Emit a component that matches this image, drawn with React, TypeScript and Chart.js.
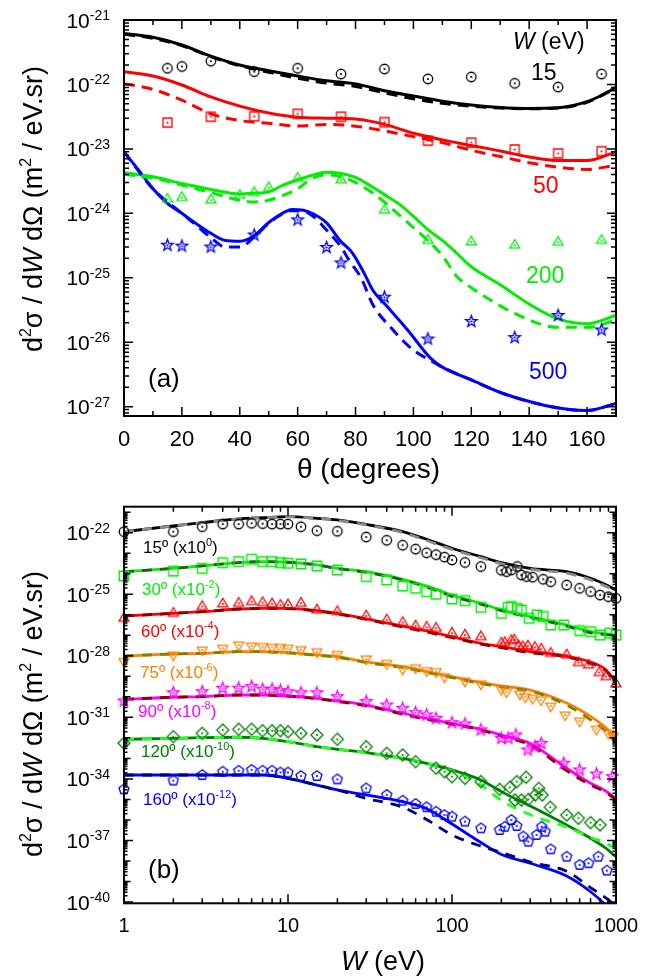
import React, { useEffect, useRef } from 'react';
import { Chart, registerables } from 'chart.js';

Chart.register(...registerables);

const FONT = '"Liberation Sans", Arial, Helvetica, sans-serif';

// ---------------- Panel (a): d2sigma vs theta ----------------
const A_YMIN = 7.16e-28;
const A_YMAX = 1e-21;
const A_X_LABELS = [0, 20, 40, 60, 80, 100, 120, 140, 160];
const A_Y_EXPS = [-21, -22, -23, -24, -25, -26, -27];

const A15_THETA = [0, 10, 20, 30, 40, 50, 60, 70, 80, 90, 100, 110, 120, 130, 140, 150, 160, 165, 170];
const A15_SOLID = [6.2e-22, 5.4e-22, 4.1e-22, 2.75e-22, 2.0e-22, 1.63e-22, 1.35e-22, 1.14e-22, 1.02e-22, 8.0e-23, 6.6e-23, 5.5e-23, 4.8e-23, 4.4e-23, 4.25e-23, 4.35e-23, 5.4e-23, 6.8e-23, 9.0e-23];
const A15_DASH = [6.0e-22, 5.2e-22, 4.0e-22, 2.7e-22, 1.95e-22, 1.55e-22, 1.25e-22, 1.05e-22, 9.3e-23, 7.4e-23, 6.0e-23, 5.1e-23, 4.6e-23, 4.3e-23, 4.2e-23, 4.3e-23, 5.3e-23, 6.7e-23, 8.9e-23];

const A50_THETA = [0, 10, 20, 30, 40, 50, 60, 70, 80, 90, 100, 110, 120, 130, 140, 150, 160, 170];
const A50_SOLID = [1.58e-22, 1.35e-22, 9.8e-23, 6.4e-23, 4.6e-23, 3.6e-23, 3.1e-23, 3.0e-23, 2.9e-23, 2.4e-23, 1.75e-23, 1.38e-23, 1.13e-23, 9.3e-24, 7.5e-24, 6.6e-24, 6.6e-24, 9.0e-24];
const A50_DASH = [1.03e-22, 8.4e-23, 5.7e-23, 3.5e-23, 2.75e-23, 2.5e-23, 2.26e-23, 2.4e-23, 2.25e-23, 1.9e-23, 1.55e-23, 1.25e-23, 9.5e-24, 7.6e-24, 6.1e-24, 5.2e-24, 4.8e-24, 5.6e-24];

const A200_THETA = [0, 10, 20, 30, 40, 45, 50, 55, 60, 65, 70, 75, 80, 85, 90, 95, 100, 105, 110, 115, 120, 130, 140, 150, 160, 170];
const A200_SOLID = [4.25e-24, 3.7e-24, 2.9e-24, 2.35e-24, 2.0e-24, 2.05e-24, 2.15e-24, 2.75e-24, 3.3e-24, 3.9e-24, 4.35e-24, 4.15e-24, 3.6e-24, 2.7e-24, 1.95e-24, 1.4e-24, 9.0e-25, 5.6e-25, 3.8e-25, 2.4e-25, 1.48e-25, 7.8e-26, 3.9e-26, 2.3e-26, 1.94e-26, 2.6e-26];
const A200_DTHETA = [0, 10, 20, 30, 40, 45, 50, 55, 60, 65, 70, 75, 80, 85, 90, 95, 100, 105, 110, 115, 120, 125, 135, 150, 160, 170];
const A200_DASH = [4.05e-24, 3.5e-24, 2.75e-24, 2.1e-24, 1.6e-24, 1.5e-24, 1.6e-24, 1.9e-24, 2.4e-24, 3.5e-24, 3.95e-24, 3.7e-24, 3.0e-24, 2.2e-24, 1.5e-24, 9.5e-25, 6.0e-25, 3.8e-25, 2.2e-25, 1.05e-25, 7.0e-26, 5.0e-26, 2.8e-26, 1.7e-26, 1.7e-26, 2.2e-26];

const A500_THETA = [0, 5, 10, 15, 20, 25, 30, 35, 40, 45, 50, 55, 58, 62, 66, 70, 74.6, 79, 83, 86, 91, 98, 106, 110, 120, 131, 143, 154, 160, 170];
const A500_SOLID = [9.0e-24, 4.7e-24, 2.4e-24, 1.43e-24, 1.0e-24, 6.9e-25, 4.9e-25, 3.8e-25, 3.7e-25, 4.5e-25, 7.2e-25, 1.02e-24, 1.15e-24, 1.12e-24, 9.5e-25, 7.1e-25, 3.8e-25, 2.4e-25, 1.17e-25, 6.4e-26, 3.55e-26, 1.55e-26, 5.6e-27, 4.1e-27, 2.6e-27, 1.6e-27, 1.11e-27, 9.0e-28, 8.7e-28, 1.12e-27];
const A500_DTHETA = [0, 10, 20, 25, 30, 35, 40, 45, 50, 55, 58, 62, 66, 70, 75, 78, 82, 86, 92.5, 99.4, 108, 110, 120, 131, 143, 154, 160, 170];
const A500_DASH = [9.0e-24, 2.4e-24, 1.0e-24, 6.5e-25, 4.2e-25, 3.0e-25, 3.0e-25, 4.3e-25, 7.0e-25, 1.0e-24, 1.1e-24, 1.08e-24, 8.5e-25, 5.5e-25, 3.0e-25, 1.8e-25, 9.8e-26, 3.8e-26, 1.63e-26, 7.9e-27, 4.6e-27, 4.1e-27, 2.6e-27, 1.6e-27, 1.11e-27, 9.0e-28, 8.7e-28, 1.12e-27];

const P15_THETA = [15, 20, 30, 45, 60, 75, 90, 105, 120, 135, 150, 165];
const P15_VAL = [1.78e-22, 1.9e-22, 2.3e-22, 1.58e-22, 1.78e-22, 1.45e-22, 1.74e-22, 1.22e-22, 1.31e-22, 1.04e-22, 9.1e-23, 1.45e-22];
const P50_THETA = [15, 30, 45, 60, 75, 90, 105, 120, 135, 150, 165];
const P50_VAL = [2.56e-23, 3.15e-23, 3.2e-23, 3.5e-23, 3.15e-23, 2.6e-23, 1.34e-23, 1.25e-23, 9.8e-24, 8.5e-24, 9.2e-24];
const P200_THETA = [15, 20, 30, 40, 45, 50, 60, 75, 90, 105, 120, 135, 150, 165];
const P200_VAL = [1.65e-24, 1.76e-24, 1.6e-24, 1.9e-24, 2.1e-24, 2.5e-24, 3.5e-24, 3.3e-24, 1.12e-24, 3.8e-25, 3.6e-25, 3.2e-25, 3.55e-25, 3.8e-25];
const P500_THETA = [15, 20, 30, 45, 60, 70, 75, 90, 105, 120, 135, 150, 165];
const P500_VAL = [3.2e-25, 3.1e-25, 3.0e-25, 4.6e-25, 7.9e-25, 2.95e-25, 1.7e-25, 5.0e-26, 1.12e-26, 2.1e-26, 1.18e-26, 2.6e-26, 1.55e-26];

// ---------------- Panel (b): d2sigma vs W (values stored as log10) ----------------
const B_YMIN_EXP = -40.063;
const B_YMAX_EXP = -20.733;
const B_X_LABELS = [1, 10, 100, 1000];
const B_Y_EXPS = [-22, -25, -28, -31, -34, -37, -40];

const W_CURVE = [1, 2, 3, 5, 7, 10, 15, 20, 30, 50, 70, 100, 150, 200, 300, 500, 700, 850, 1000];
const B15_SOLID = [-21.95, -21.67, -21.51, -21.33, -21.27, -21.22, -21.30, -21.38, -21.60, -21.95, -22.32, -22.76, -23.17, -23.46, -23.74, -23.90, -24.22, -24.50, -24.79];
const B15_DASH = [-21.95, -21.67, -21.51, -21.33, -21.27, -21.22, -21.30, -21.40, -21.62, -21.99, -22.38, -22.82, -23.22, -23.51, -23.79, -23.97, -24.30, -24.58, -24.85];
const B30_SOLID = [-23.90, -23.74, -23.62, -23.46, -23.41, -23.44, -23.57, -23.74, -23.90, -24.27, -24.60, -25.04, -25.44, -25.77, -26.09, -26.50, -26.82, -26.92, -26.99];
const B30_DASH = [-23.90, -23.74, -23.62, -23.46, -23.41, -23.44, -23.57, -23.75, -23.93, -24.30, -24.65, -25.10, -25.48, -25.80, -26.13, -26.55, -26.88, -26.96, -27.02];
const B60_SOLID = [-26.06, -25.93, -25.85, -25.72, -25.69, -25.69, -25.80, -25.93, -26.20, -26.55, -26.79, -27.07, -27.39, -27.55, -27.80, -28.01, -28.30, -28.62, -29.26];
const B60_DASH = [-26.06, -25.93, -25.85, -25.72, -25.69, -25.70, -25.82, -25.96, -26.23, -26.60, -26.84, -27.12, -27.43, -27.60, -27.85, -28.06, -28.37, -28.68, -29.30];
const B75_SOLID = [-28.01, -27.91, -27.88, -27.80, -27.80, -27.85, -27.96, -28.04, -28.30, -28.53, -28.77, -29.02, -29.31, -29.47, -29.67, -30.30, -30.95, -31.45, -32.00];
const B75_DASH = [-28.01, -27.91, -27.88, -27.80, -27.80, -27.86, -27.98, -28.07, -28.33, -28.57, -28.81, -29.06, -29.35, -29.52, -29.72, -30.40, -31.12, -31.62, -32.20];
const B90_SOLID = [-30.12, -30.02, -29.99, -29.91, -29.91, -29.96, -30.07, -30.20, -30.40, -30.80, -31.05, -31.29, -31.58, -31.86, -32.27, -33.48, -34.21, -34.55, -34.95];
const B90_DASH = [-30.12, -30.02, -29.99, -29.91, -29.91, -29.97, -30.09, -30.23, -30.44, -30.85, -31.10, -31.33, -31.62, -31.92, -32.35, -33.60, -34.30, -34.62, -35.00];
const B120_SOLID = [-32.07, -32.02, -31.99, -31.97, -32.02, -32.18, -32.43, -32.56, -32.72, -33.00, -33.24, -33.56, -34.05, -34.62, -35.32, -36.24, -36.89, -37.33, -37.79];
const B120_DASH = [-32.07, -32.02, -31.99, -31.97, -32.02, -32.18, -32.43, -32.56, -32.72, -33.00, -33.24, -33.60, -34.30, -35.05, -35.75, -36.35, -36.85, -37.10, -37.38];
const B160_SOLID = [-33.81, -33.81, -33.81, -33.81, -33.81, -33.97, -34.30, -34.54, -34.78, -35.11, -35.45, -36.20, -37.10, -37.68, -38.11, -38.73, -39.50, -40.10, -40.80];
const B160_DASH = [-33.81, -33.81, -33.81, -33.81, -33.81, -33.97, -34.30, -34.54, -34.95, -35.38, -35.98, -36.73, -37.28, -37.58, -38.05, -38.50, -39.30, -39.75, -40.20];

const B15_W = [1, 2, 3, 4, 5, 6, 7, 8, 9, 10, 12, 15, 20, 30, 40, 50, 60, 70, 80, 90, 100, 120, 150, 200, 215, 230, 250, 265, 285, 310, 360, 400, 500, 600, 700, 800, 900, 1000];
const B15_P = [-21.95, -21.95, -21.71, -21.58, -21.58, -21.54, -21.56, -21.58, -21.58, -21.58, -21.71, -21.90, -21.93, -22.21, -22.37, -22.61, -22.80, -22.98, -23.07, -23.19, -23.33, -23.45, -23.65, -23.83, -23.90, -23.82, -23.65, -24.06, -24.14, -24.17, -24.27, -24.39, -24.55, -24.71, -24.87, -25.04, -25.12, -25.20];
const B30_W = [1, 2, 3, 4, 5, 6, 7, 8, 9, 10, 12, 15, 20, 30, 40, 50, 60, 70, 80, 100, 120, 150, 200, 220, 230, 250, 265, 295, 330, 360, 400, 480, 600, 700, 800, 920, 1000];
const B30_P = [-24.11, -23.87, -23.74, -23.46, -23.41, -23.30, -23.41, -23.41, -23.46, -23.49, -23.52, -23.62, -23.82, -24.14, -24.30, -24.60, -24.71, -24.87, -25.00, -25.23, -25.31, -25.64, -25.93, -25.64, -25.60, -25.69, -25.77, -26.17, -26.01, -26.09, -26.50, -26.50, -26.77, -26.82, -26.99, -26.90, -26.99];
const B60_W = [1, 2, 3, 4, 5, 6, 7, 8, 9, 10, 12, 15, 20, 30, 40, 50, 60, 70, 80, 100, 120, 150, 200, 210, 230, 240, 255, 270, 290, 320, 350, 400, 500, 590, 680, 790, 870, 1000];
const B60_P = [-26.17, -25.93, -25.60, -25.47, -25.44, -25.36, -25.41, -25.47, -25.54, -25.52, -25.44, -25.77, -25.85, -26.06, -26.25, -26.38, -26.55, -26.61, -26.66, -26.90, -26.99, -27.07, -27.39, -27.36, -27.26, -27.23, -27.52, -27.55, -27.52, -27.59, -27.68, -27.88, -27.96, -28.33, -28.45, -28.82, -29.02, -29.37];
const B75_W = [1, 2, 3, 4, 5, 6, 7, 8, 9, 10, 12, 15, 20, 30, 40, 50, 60, 70, 80, 90, 120, 150, 200, 215, 260, 280, 310, 350, 400, 490, 600, 760, 900, 960];
const B75_P = [-28.28, -27.96, -27.72, -27.63, -27.47, -27.52, -27.55, -27.59, -27.59, -27.63, -27.70, -27.80, -27.93, -28.15, -28.37, -28.64, -28.58, -28.72, -28.77, -29.02, -29.23, -29.37, -29.63, -29.75, -29.86, -29.99, -30.07, -30.15, -30.45, -30.88, -31.18, -31.58, -31.78, -31.91];
const B90_W = [1, 2, 3, 4, 5, 6, 7, 8, 9, 10, 12, 15, 20, 30, 40, 50, 60, 70, 80, 100, 120, 150, 200, 220, 245, 290, 320, 350, 480, 600, 760, 950];
const B90_P = [-30.20, -29.80, -29.75, -29.58, -29.58, -29.50, -29.63, -29.63, -29.70, -29.75, -29.80, -29.80, -29.99, -30.23, -30.40, -30.56, -30.77, -30.88, -31.05, -31.26, -31.32, -31.61, -32.02, -32.02, -31.86, -32.59, -32.43, -32.27, -33.24, -33.56, -33.76, -33.89];
const B120_W = [1, 2, 3, 4, 5, 6, 7, 8, 9, 10, 12, 15, 20, 30, 40, 50, 60, 80, 90, 100, 120, 150, 195, 225, 242, 248, 265, 283, 292, 322, 338, 355, 397, 500, 590, 700, 800];
const B120_P = [-32.26, -31.94, -31.78, -31.62, -31.58, -31.58, -31.65, -31.65, -31.65, -31.70, -31.78, -31.86, -32.07, -32.43, -32.75, -32.83, -33.16, -33.48, -33.65, -33.89, -33.97, -34.13, -34.51, -34.41, -35.03, -34.13, -35.03, -33.92, -35.00, -34.78, -34.46, -34.78, -35.38, -35.76, -35.92, -36.13, -36.24];
const B160_W = [1, 2, 3, 4, 5, 6, 7, 8, 9, 10, 12, 15, 20, 30, 40, 50, 60, 70, 80, 90, 100, 120, 150, 195, 210, 230, 248, 272, 292, 328, 352, 370, 400, 500, 600, 680, 780, 880];
const B160_P = [-34.51, -34.08, -33.81, -33.65, -33.60, -33.56, -33.60, -33.60, -33.69, -33.69, -33.86, -33.86, -34.02, -34.46, -34.78, -35.06, -35.22, -35.38, -35.60, -35.76, -35.84, -36.08, -36.41, -36.49, -36.33, -36.00, -36.29, -36.81, -37.06, -36.73, -36.33, -36.57, -37.43, -37.79, -38.19, -38.11, -37.79, -38.47];

const C = {
  black: '#000000', red: '#ff0000', green: '#00ee00', blue: '#0000ff', orange: '#ff8000',
  magenta: '#ff00ff', dkgreen: '#008000', gray: '#8a8a8a', dash30: '#1e5e1e', dkred: '#8b0000',
  olive: '#808000', lime: '#22ff22', navy: '#000080',
};

type Seg = { t: string; sup?: boolean; it?: boolean };

function drawRich(ctx: any, segs: Seg[], x: number, y: number, size: number, color: string,
  align: 'left' | 'center' | 'right' = 'left', supScale = 0.65, supRaise = 0.38) {
  const fontFor = (s: Seg) => `${s.it ? 'italic ' : ''}${s.sup ? Math.round(size * supScale) : size}px ${FONT}`;
  let total = 0;
  const widths = segs.map((s) => { ctx.font = fontFor(s); const w = ctx.measureText(s.t).width; total += w; return w; });
  let cx = align === 'left' ? x : align === 'center' ? x - total / 2 : x - total;
  ctx.fillStyle = color;
  ctx.textAlign = 'left';
  ctx.textBaseline = 'alphabetic';
  segs.forEach((s, i) => {
    ctx.font = fontFor(s);
    ctx.fillText(s.t, cx, s.sup ? y - size * supRaise : y);
    cx += widths[i];
  });
}

function eachLogTick(min: number, max: number, cb: (v: number, k: number, e: number) => void) {
  const e0 = Math.floor(Math.log10(min)) - 1;
  const e1 = Math.ceil(Math.log10(max)) + 1;
  for (let e = e0; e <= e1; e++) {
    for (let k = 1; k <= 9; k++) {
      const v = k * Math.pow(10, e);
      if (v >= min * 0.9999 && v <= max * 1.0001) cb(v, k, e);
    }
  }
}

function vTick(ctx: any, ca: any, x: number, len: number) {
  ctx.beginPath();
  ctx.moveTo(x, ca.bottom); ctx.lineTo(x, ca.bottom - len);
  ctx.moveTo(x, ca.top); ctx.lineTo(x, ca.top + len);
  ctx.stroke();
}
function hTick(ctx: any, ca: any, y: number, len: number) {
  ctx.beginPath();
  ctx.moveTo(ca.left, y); ctx.lineTo(ca.left + len, y);
  ctx.moveTo(ca.right, y); ctx.lineTo(ca.right - len, y);
  ctx.stroke();
}

const Y_TITLE: Seg[] = [
  { t: 'd' }, { t: '2', sup: true }, { t: 'σ / d' }, { t: 'W', it: true }, { t: ' dΩ (m' },
  { t: '2', sup: true }, { t: ' / eV.sr)' },
];

function drawYTitle(ctx: any, cy: number) {
  ctx.save();
  ctx.translate(42, cy);
  ctx.rotate(-Math.PI / 2);
  drawRich(ctx, Y_TITLE, 0, 0, 27, '#000', 'center', 0.6, 0.4);
  ctx.restore();
}

function drawYExpLabels(ctx: any, ys: any, exps: number[]) {
  exps.forEach((e) => {
    const y = ys.getPixelForValue(Math.pow(10, e));
    drawRich(ctx, [{ t: '10' }, { t: String(e), sup: true }], 110, y + 7.5, 21, '#000', 'right', 0.667, 0.357);
  });
}

const decorA = {
  id: 'decorA',
  afterDraw(chart: any) {
    const ctx = chart.ctx, ca = chart.chartArea, xs = chart.scales.x, ys = chart.scales.y;
    ctx.save();
    ctx.strokeStyle = '#000';
    ctx.lineWidth = 1.5;
    for (let t = 0; t <= 170; t += 10) vTick(ctx, ca, xs.getPixelForValue(t), t % 20 === 0 ? 9 : 5);
    eachLogTick(A_YMIN, A_YMAX, (v, k) => hTick(ctx, ca, ys.getPixelForValue(v), k === 1 ? 9 : 5));
    ctx.lineWidth = 2;
    ctx.strokeRect(ca.left, ca.top, ca.right - ca.left, ca.bottom - ca.top);

    ctx.font = `22px ${FONT}`;
    ctx.fillStyle = '#000';
    ctx.textAlign = 'center';
    ctx.textBaseline = 'alphabetic';
    A_X_LABELS.forEach((v) => ctx.fillText(String(v), xs.getPixelForValue(v), 446));
    drawYExpLabels(ctx, ys, A_Y_EXPS);

    drawRich(ctx, [{ t: 'θ (degrees)' }], 297, 478, 28, '#000');
    drawYTitle(ctx, 209);
    drawRich(ctx, [{ t: '(a)' }], 148, 387, 26, '#000');
    drawRich(ctx, [{ t: 'W', it: true }, { t: ' (eV)' }], 513, 48.5, 23, '#000');
    drawRich(ctx, [{ t: '15' }], 531, 80, 23, C.black);
    drawRich(ctx, [{ t: '50' }], 533, 193, 23, C.red);
    drawRich(ctx, [{ t: '200' }], 526, 283, 23, C.green);
    drawRich(ctx, [{ t: '500' }], 529, 379, 23, C.blue);
    ctx.restore();
  },
};

const B_CURVE_LABELS: { angle: string; exp: string; color: string; x: number; y: number }[] = [
  { angle: '15º (x10', exp: '0', color: C.black, x: 143, y: 63 },
  { angle: '30º (x10', exp: '-2', color: C.green, x: 142, y: 105 },
  { angle: '60º (x10', exp: '-4', color: C.red, x: 141, y: 146.5 },
  { angle: '75º (x10', exp: '-6', color: C.orange, x: 140, y: 188 },
  { angle: '90º (x10', exp: '-8', color: C.magenta, x: 138, y: 226.5 },
  { angle: '120º (x10', exp: '-10', color: C.dkgreen, x: 141, y: 267 },
  { angle: '160º (x10', exp: '-12', color: C.blue, x: 143, y: 315 },
];

const decorB = {
  id: 'decorB',
  afterDraw(chart: any) {
    const ctx = chart.ctx, ca = chart.chartArea, xs = chart.scales.x, ys = chart.scales.y;
    ctx.save();
    ctx.strokeStyle = '#000';
    ctx.lineWidth = 1.5;
    eachLogTick(1, 1000, (v, k) => vTick(ctx, ca, xs.getPixelForValue(v), k === 1 ? 9 : 5));
    eachLogTick(Math.pow(10, B_YMIN_EXP), Math.pow(10, B_YMAX_EXP), (v, k, e) => {
      const len = k === 1 ? (B_Y_EXPS.includes(e) ? 9 : 6.5) : 3.5;
      hTick(ctx, ca, ys.getPixelForValue(v), len);
    });
    ctx.lineWidth = 2;
    ctx.strokeRect(ca.left, ca.top, ca.right - ca.left, ca.bottom - ca.top);

    ctx.font = `20px ${FONT}`;
    ctx.fillStyle = '#000';
    ctx.textAlign = 'center';
    ctx.textBaseline = 'alphabetic';
    B_X_LABELS.forEach((v) => ctx.fillText(String(v), xs.getPixelForValue(v), 442));
    drawYExpLabels(ctx, ys, B_Y_EXPS);

    drawRich(ctx, [{ t: 'W', it: true }, { t: ' (eV)' }], 341, 480, 27, '#000');
    drawYTitle(ctx, 224);
    drawRich(ctx, [{ t: '(b)' }], 148, 387.5, 26, '#000');
    B_CURVE_LABELS.forEach((l) => {
      drawRich(ctx, [{ t: l.angle }, { t: l.exp, sup: true }, { t: ')' }], l.x, l.y, 17, l.color, 'left', 0.65, 0.42);
    });
    ctx.restore();
  },
};

function makeMarker(shape: string, color: string, size: number, dot: boolean): HTMLCanvasElement {
  const S = Math.ceil(size) + 6;
  const c = document.createElement('canvas');
  c.width = S; c.height = S;
  const g = c.getContext('2d') as CanvasRenderingContext2D;
  const cx = S / 2, cy = S / 2, r = size / 2;
  g.strokeStyle = color; g.fillStyle = color; g.lineWidth = 1.3; g.lineJoin = 'miter';
  const poly = (n: number, rot: number, rr: number, inner = 0) => {
    const m = inner ? n * 2 : n;
    for (let i = 0; i < m; i++) {
      const a = rot + (i * 2 * Math.PI) / m;
      const rad = inner && i % 2 === 1 ? inner : rr;
      const px = cx + rad * Math.cos(a), py = cy + rad * Math.sin(a);
      if (i === 0) g.moveTo(px, py); else g.lineTo(px, py);
    }
    g.closePath();
  };
  g.beginPath();
  if (shape === 'circle') g.arc(cx, cy, r, 0, Math.PI * 2);
  else if (shape === 'square') g.rect(cx - r, cy - r, 2 * r, 2 * r);
  else if (shape === 'tri') poly(3, -Math.PI / 2, r * 1.15);
  else if (shape === 'tridown') poly(3, Math.PI / 2, r * 1.15);
  else if (shape === 'diamond') poly(4, -Math.PI / 2, r * 1.2);
  else if (shape === 'pent') poly(5, -Math.PI / 2, r * 1.05);
  else if (shape === 'star') poly(5, -Math.PI / 2, r * 1.1, r * 0.45);
  g.stroke();
  if (dot) { g.beginPath(); g.arc(cx, cy, 1.1, 0, Math.PI * 2); g.fill(); }
  return c;
}

const xy = (xs: number[], ys: number[]) => xs.map((x, i) => ({ x, y: ys[i] }));
const xyLog = (xs: number[], es: number[]) => xs.map((x, i) => ({ x, y: Math.pow(10, es[i]) }));

function lineDs(data: any[], color: string, dashed: boolean, width: number, dash: number[]) {
  return {
    data, showLine: true, borderColor: color, backgroundColor: color, borderWidth: width,
    borderDash: dashed ? dash : [], pointRadius: 0, pointHoverRadius: 0,
    cubicInterpolationMode: 'monotone', borderJoinStyle: 'round', order: dashed ? 2 : 3,
  };
}
function pointDs(data: any[], img: HTMLCanvasElement) {
  return { data, showLine: false, pointStyle: img, pointRadius: 4, pointHoverRadius: 4, order: 1, clip: false };
}

function configA() {
  const dash = [11, 7];
  const datasets = [
    lineDs(xy(A15_THETA, A15_SOLID), C.black, false, 3, dash),
    lineDs(xy(A15_THETA, A15_DASH), C.black, true, 3, dash),
    lineDs(xy(A50_THETA, A50_SOLID), C.red, false, 3, dash),
    lineDs(xy(A50_THETA, A50_DASH), C.red, true, 3, dash),
    lineDs(xy(A200_THETA, A200_SOLID), C.green, false, 3, dash),
    lineDs(xy(A200_DTHETA, A200_DASH), C.green, true, 3, dash),
    lineDs(xy(A500_THETA, A500_SOLID), C.blue, false, 3, dash),
    lineDs(xy(A500_DTHETA, A500_DASH), C.blue, true, 3, dash),
    pointDs(xy(P15_THETA, P15_VAL), makeMarker('circle', C.black, 9.5, true)),
    pointDs(xy(P50_THETA, P50_VAL), makeMarker('square', C.red, 9, true)),
    pointDs(xy(P200_THETA, P200_VAL), makeMarker('tri', C.green, 10, true)),
    pointDs(xy(P500_THETA, P500_VAL), makeMarker('star', C.blue, 11, true)),
  ];
  return {
    type: 'scatter',
    data: { datasets },
    options: {
      animation: false, responsive: false, events: [],
      layout: { padding: { left: 124, right: 41, top: 20, bottom: 74 } },
      plugins: { legend: { display: false }, tooltip: { enabled: false } },
      scales: {
        x: { type: 'linear', min: 0, max: 170, display: false },
        y: { type: 'logarithmic', min: A_YMIN, max: A_YMAX, display: false },
      },
    },
    plugins: [decorA],
  };
}

function configB() {
  const dash = [10, 8];
  const w = 2.8;
  const datasets = [
    lineDs(xyLog(W_CURVE, B15_SOLID), C.black, false, w, dash),
    lineDs(xyLog(W_CURVE, B15_DASH), C.gray, true, w, dash),
    lineDs(xyLog(W_CURVE, B30_SOLID), C.green, false, w, dash),
    lineDs(xyLog(W_CURVE, B30_DASH), C.dash30, true, w, dash),
    lineDs(xyLog(W_CURVE, B60_SOLID), C.red, false, w, dash),
    lineDs(xyLog(W_CURVE, B60_DASH), C.dkred, true, w, dash),
    lineDs(xyLog(W_CURVE, B75_SOLID), C.orange, false, w, dash),
    lineDs(xyLog(W_CURVE, B75_DASH), C.olive, true, w, dash),
    lineDs(xyLog(W_CURVE, B90_SOLID), C.magenta, false, w, dash),
    lineDs(xyLog(W_CURVE, B90_DASH), C.dkred, true, w, dash),
    lineDs(xyLog(W_CURVE, B120_SOLID), C.dkgreen, false, w, dash),
    lineDs(xyLog(W_CURVE, B120_DASH), C.lime, true, w, dash),
    lineDs(xyLog(W_CURVE, B160_SOLID), C.blue, false, w, dash),
    lineDs(xyLog(W_CURVE, B160_DASH), C.navy, true, w, dash),
    pointDs(xyLog(B15_W, B15_P), makeMarker('circle', C.black, 9.5, true)),
    pointDs(xyLog(B30_W, B30_P), makeMarker('square', C.green, 9.5, false)),
    pointDs(xyLog(B60_W, B60_P), makeMarker('tri', C.red, 10, true)),
    pointDs(xyLog(B75_W, B75_P), makeMarker('tridown', C.orange, 10, true)),
    pointDs(xyLog(B90_W, B90_P), makeMarker('star', C.magenta, 11, true)),
    pointDs(xyLog(B120_W, B120_P), makeMarker('diamond', C.dkgreen, 10, true)),
    pointDs(xyLog(B160_W, B160_P), makeMarker('pent', C.blue, 10, true)),
  ];
  return {
    type: 'scatter',
    data: { datasets },
    options: {
      animation: false, responsive: false, events: [],
      layout: { padding: { left: 124, right: 41, top: 16.7, bottom: 74.7 } },
      plugins: { legend: { display: false }, tooltip: { enabled: false } },
      scales: {
        x: { type: 'logarithmic', min: 1, max: 1000, display: false },
        y: { type: 'logarithmic', min: Math.pow(10, B_YMIN_EXP), max: Math.pow(10, B_YMAX_EXP), display: false },
      },
    },
    plugins: [decorB],
  };
}

export default function App() {
  const refA = useRef<HTMLCanvasElement>(null);
  const refB = useRef<HTMLCanvasElement>(null);
  useEffect(() => {
    const a = new Chart(refA.current as any, configA() as any);
    const b = new Chart(refB.current as any, configB() as any);
    return () => { a.destroy(); b.destroy(); };
  }, []);
  return (
    <div style={{ position: 'absolute', left: 0, top: 0, width: 657, height: 978, background: '#fff' }}>
      <canvas ref={refA} width={657} height={490} style={{ position: 'absolute', left: 0, top: 0 }} />
      <canvas ref={refB} width={657} height={488} style={{ position: 'absolute', left: 0, top: 490 }} />
    </div>
  );
}
